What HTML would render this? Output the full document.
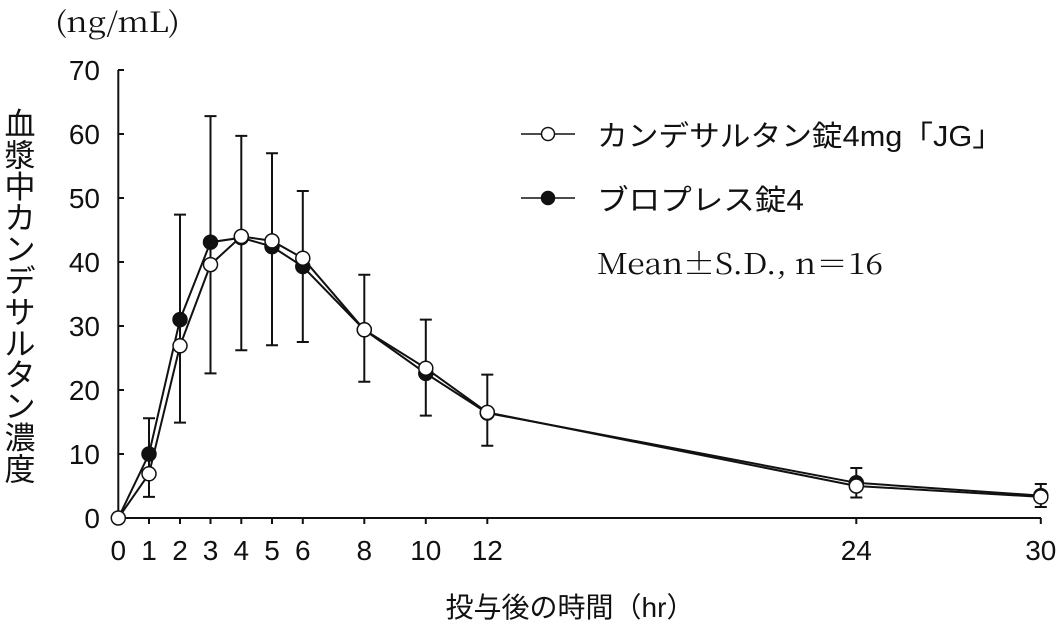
<!DOCTYPE html>
<html><head><meta charset="utf-8"><style>
html,body{margin:0;padding:0;background:#fff;}
svg text{font-family:"Liberation Serif","Noto Serif CJK JP",serif;fill:#111;}
.jp{font-family:"Liberation Sans","Noto Sans CJK JP",sans-serif;}
.sr{font-family:"Noto Serif CJK JP","Liberation Serif",serif;}
</style></head><body>
<svg width="1064" height="629" viewBox="0 0 1064 629" xmlns="http://www.w3.org/2000/svg">
<g stroke="#111" stroke-width="2" fill="none">
<line x1="118.3" y1="70" x2="118.3" y2="519"/>
<line x1="117.3" y1="518" x2="1041" y2="518"/>
<line x1="118" y1="70" x2="124" y2="70"/>
<line x1="118" y1="134" x2="124" y2="134"/>
<line x1="118" y1="198" x2="124" y2="198"/>
<line x1="118" y1="262" x2="124" y2="262"/>
<line x1="118" y1="326" x2="124" y2="326"/>
<line x1="118" y1="390" x2="124" y2="390"/>
<line x1="118" y1="454" x2="124" y2="454"/>
<line x1="149" y1="518" x2="149" y2="524"/>
<line x1="180" y1="518" x2="180" y2="524"/>
<line x1="210.5" y1="518" x2="210.5" y2="524"/>
<line x1="241.3" y1="518" x2="241.3" y2="524"/>
<line x1="272" y1="518" x2="272" y2="524"/>
<line x1="302.8" y1="518" x2="302.8" y2="524"/>
<line x1="364.3" y1="518" x2="364.3" y2="524"/>
<line x1="425.8" y1="518" x2="425.8" y2="524"/>
<line x1="487.3" y1="518" x2="487.3" y2="524"/>
<line x1="856.3" y1="518" x2="856.3" y2="524"/>
<line x1="1040.8" y1="518" x2="1040.8" y2="524"/>
</g>
<g stroke="#111" stroke-width="2" fill="none">
<path d="M149 418.2V496.9M143 418.2H155M143 496.9H155"/>
<path d="M180 214.6V422.6M174 214.6H186M174 422.6H186"/>
<path d="M210.5 116.1V373.4M204.5 116.1H216.5M204.5 373.4H216.5"/>
<path d="M241.3 135.9V350.3M235.3 135.9H247.3M235.3 350.3H247.3"/>
<path d="M272 153.2V345.2M266 153.2H278M266 345.2H278"/>
<path d="M302.8 191V342M296.8 191H308.8M296.8 342H308.8"/>
<path d="M364.3 274.8V381.7M358.3 274.8H370.3M358.3 381.7H370.3"/>
<path d="M425.8 319.6V415.6M419.8 319.6H431.8M419.8 415.6H431.8"/>
<path d="M487.3 374.6V445.7M481.3 374.6H493.3M481.3 445.7H493.3"/>
<path d="M856.3 468V497.5M850.3 468H862.3M850.3 497.5H862.3"/>
<path d="M1040.8 484V507M1034.8 484H1046.8M1034.8 507H1046.8"/>
<polyline points="118.3,518 149,454 180,319.6 210.5,242.2 241.3,237.7 272,246.6 302.8,266.5 364.3,329.8 425.8,373.4 487.3,413 856.3,482.8 1040.8,495.6"/>
<polyline points="118.3,518 149,473.8 180,345.8 210.5,264.6 241.3,236.4 272,240.9 302.8,258.2 364.3,329.8 425.8,368.2 487.3,412.4 856.3,486 1040.8,496.9"/>
</g>
<g fill="#111" stroke="#111" stroke-width="1.5">
<circle cx="149" cy="454" r="7"/><circle cx="180" cy="319.6" r="7"/><circle cx="210.5" cy="242.2" r="7"/><circle cx="241.3" cy="237.7" r="7"/><circle cx="272" cy="246.6" r="7"/><circle cx="302.8" cy="266.5" r="7"/><circle cx="364.3" cy="329.8" r="7"/><circle cx="425.8" cy="373.4" r="7"/><circle cx="487.3" cy="413" r="7"/><circle cx="856.3" cy="482.8" r="7"/><circle cx="1040.8" cy="495.6" r="7"/>
</g>
<g fill="#fff" stroke="#111" stroke-width="1.5">
<circle cx="118.3" cy="518" r="7"/><circle cx="149" cy="473.8" r="7"/><circle cx="180" cy="345.8" r="7"/><circle cx="210.5" cy="264.6" r="7"/><circle cx="241.3" cy="236.4" r="7"/><circle cx="272" cy="240.9" r="7"/><circle cx="302.8" cy="258.2" r="7"/><circle cx="364.3" cy="329.8" r="7"/><circle cx="425.8" cy="368.2" r="7"/><circle cx="487.3" cy="412.4" r="7"/><circle cx="856.3" cy="486" r="7"/><circle cx="1040.8" cy="496.9" r="7"/>
</g>
<g stroke="#111" stroke-width="1.5">
<line x1="521" y1="134" x2="575" y2="134"/><circle cx="548" cy="134" r="6.5" fill="#fff"/>
<line x1="521" y1="198" x2="575" y2="198"/><circle cx="548" cy="198" r="6.5" fill="#111"/>
</g>
<text x="597" y="146" font-size="29" class="jp" textLength="406" lengthAdjust="spacingAndGlyphs">カンデサルタン錠4mg「JG」</text>
<text x="597" y="210" font-size="29" class="jp" textLength="207" lengthAdjust="spacingAndGlyphs">ブロプレス錠4</text>
<text x="597" y="274" font-size="29" class="sr" textLength="286" lengthAdjust="spacingAndGlyphs">Mean±S.D., n＝16</text>
<text x="55" y="32" font-size="28" class="sr" textLength="125" lengthAdjust="spacingAndGlyphs">(ng/mL)</text>
<g font-size="28" text-anchor="end">
<text x="100" y="80" style="font-family:'Liberation Sans',sans-serif">70</text>
<text x="100" y="144" style="font-family:'Liberation Sans',sans-serif">60</text>
<text x="100" y="208" style="font-family:'Liberation Sans',sans-serif">50</text>
<text x="100" y="272" style="font-family:'Liberation Sans',sans-serif">40</text>
<text x="100" y="336" style="font-family:'Liberation Sans',sans-serif">30</text>
<text x="100" y="400" style="font-family:'Liberation Sans',sans-serif">20</text>
<text x="100" y="464" style="font-family:'Liberation Sans',sans-serif">10</text>
<text x="100" y="528" style="font-family:'Liberation Sans',sans-serif">0</text>
</g>
<g font-size="28" text-anchor="middle">
<text x="118.3" y="560" style="font-family:'Liberation Sans',sans-serif">0</text>
<text x="149" y="560" style="font-family:'Liberation Sans',sans-serif">1</text>
<text x="180" y="560" style="font-family:'Liberation Sans',sans-serif">2</text>
<text x="210.5" y="560" style="font-family:'Liberation Sans',sans-serif">3</text>
<text x="241.3" y="560" style="font-family:'Liberation Sans',sans-serif">4</text>
<text x="272" y="560" style="font-family:'Liberation Sans',sans-serif">5</text>
<text x="302.8" y="560" style="font-family:'Liberation Sans',sans-serif">6</text>
<text x="364.3" y="560" style="font-family:'Liberation Sans',sans-serif">8</text>
<text x="425.8" y="560" style="font-family:'Liberation Sans',sans-serif">10</text>
<text x="487.3" y="560" style="font-family:'Liberation Sans',sans-serif">12</text>
<text x="856.3" y="560" style="font-family:'Liberation Sans',sans-serif">24</text>
<text x="1040.8" y="560" style="font-family:'Liberation Sans',sans-serif">30</text>
</g>
<text x="570" y="617" font-size="28" text-anchor="middle" class="jp">投与後の時間（hr）</text>
<g font-size="31" text-anchor="middle">
<text x="20" y="135" class="jp">血</text>
<text x="20" y="166.4" class="jp">漿</text>
<text x="20" y="197.8" class="jp">中</text>
<text x="20" y="229.2" class="jp">カ</text>
<text x="20" y="260.6" class="jp">ン</text>
<text x="20" y="292" class="jp">デ</text>
<text x="20" y="323.4" class="jp">サ</text>
<text x="20" y="354.8" class="jp">ル</text>
<text x="20" y="386.2" class="jp">タ</text>
<text x="20" y="417.6" class="jp">ン</text>
<text x="20" y="449" class="jp">濃</text>
<text x="20" y="480.4" class="jp">度</text>
</g>
</svg>
</body></html>
